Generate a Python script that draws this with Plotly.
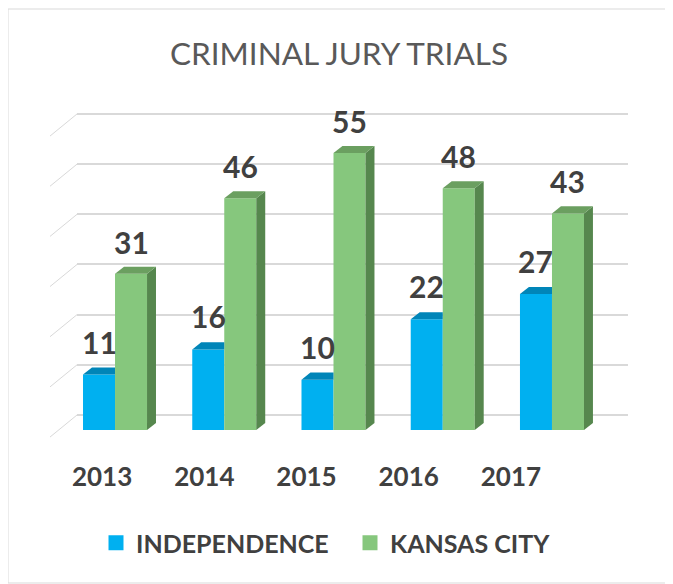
import plotly.graph_objects as go

# ---- data ----
years = ["2013", "2014", "2015", "2016", "2017"]
independence = [11, 16, 10, 22, 27]
kansas_city = [31, 46, 55, 48, 43]
y_ticks = [0, 10, 20, 30, 40, 50, 60]
series_names = ["INDEPENDENCE", "KANSAS CITY"]

# ---- geometry helpers (page body has an 8px margin) ----
OFF = 8
W, H = 673 - OFF, 584 - OFF
def px(x):
    return (x - OFF) / W
def py(y):
    return 1 - (y - OFF) / H

BARGAP = 0.414
bw = (1 - BARGAP) / 2      # width of one bar in category units
DX = 0.082                 # depth offset (category units)
DY = 1.4                   # depth offset (value units)

BLUE, BLUE_TOP = "#00b0f0", "#0085b8"
GREEN, GREEN_SIDE, GREEN_TOP = "#86c77d", "#56874e", "#6b9f60"
TXT = "#404040"
FONT = "Lato"

idx = list(range(len(years)))

fig = go.Figure()
fig.add_trace(go.Bar(x=idx, y=independence, name=series_names[0], showlegend=False,
                     marker=dict(color=BLUE, line=dict(width=0)),
                     xaxis="x2", yaxis="y2", hoverinfo="y"))
fig.add_trace(go.Bar(x=idx, y=kansas_city, name=series_names[1], showlegend=False,
                     marker=dict(color=GREEN, line=dict(width=0)),
                     xaxis="x2", yaxis="y2", hoverinfo="y"))
# legend entries (square swatches)
for name, col in zip(series_names, [BLUE, GREEN]):
    fig.add_trace(go.Scatter(x=[None], y=[None], mode="markers", name=name,
                             marker=dict(symbol="square", size=15, color=col),
                             xaxis="x2", yaxis="y2"))
# invisible carrier for the category label axis
fig.add_trace(go.Scatter(x=idx, y=[0] * len(idx), mode="markers", showlegend=False,
                         marker=dict(opacity=0), hoverinfo="skip",
                         xaxis="x3", yaxis="y3"))

shapes = []
# chart border
shapes.append(dict(type="rect", xref="paper", yref="paper",
                   x0=px(8), x1=px(667), y0=py(583), y1=py(9),
                   line=dict(color="#d9d9d9", width=1), layer="below"))
# side wall diagonals of the gridlines
for t in y_ticks:
    shapes.append(dict(type="line", xref="paper", yref="y",
                       x0=px(50), y0=t - 4.4, x1=px(77), y1=t,
                       line=dict(color="#d9d9d9", width=1), layer="below"))
# 3D faces of the bars
for i, v in enumerate(kansas_city):
    shapes.append(dict(type="path", xref="x2", yref="y2", layer="above",
                       path=f"M {i+bw},0 L {i+bw+DX},{DY} L {i+bw+DX},{v+DY} L {i+bw},{v} Z",
                       fillcolor=GREEN_SIDE, line=dict(width=0)))
    shapes.append(dict(type="path", xref="x2", yref="y2", layer="above",
                       path=f"M {i},{v} L {i+DX},{v+DY} L {i+bw+DX},{v+DY} L {i+bw},{v} Z",
                       fillcolor=GREEN_TOP, line=dict(width=0)))
for i, v in enumerate(independence):
    shapes.append(dict(type="path", xref="x2", yref="y2", layer="above",
                       path=f"M {i-bw},{v} L {i-bw+DX},{v+DY} L {i},{v+DY} L {i},{v} Z",
                       fillcolor=BLUE_TOP, line=dict(width=0)))

annotations = []
for i, v in enumerate(independence):
    annotations.append(dict(x=i - bw / 2, y=v, xref="x2", yref="y2", text=str(v),
                            showarrow=False, yanchor="middle", yshift=33,
                            font=dict(family=FONT, size=30, color=TXT, weight="bold")))
for i, v in enumerate(kansas_city):
    annotations.append(dict(x=i + bw / 2, y=v, xref="x2", yref="y2", text=str(v),
                            showarrow=False, yanchor="middle", yshift=32,
                            font=dict(family=FONT, size=30, color=TXT, weight="bold")))

s = 5.017  # px per unit on the back wall
fig.update_layout(
    width=W, height=H,
    margin=dict(l=0, r=0, t=0, b=0),
    paper_bgcolor="white", plot_bgcolor="rgba(0,0,0,0)",
    title=dict(text="CRIMINAL JURY TRIALS", x=px(339), xanchor="center",
               y=py(54), yanchor="middle",
               font=dict(family=FONT, size=31.5, color="#595959")),
    barmode="group", bargap=BARGAP, bargroupgap=0,
    # back wall grid
    xaxis=dict(domain=[px(77), px(628)], range=[0, 1], visible=False, anchor="y"),
    yaxis=dict(domain=[py(415 + 5 * s), py(415 - 60.5 * s)], range=[-5, 60.5],
               tickvals=y_ticks, showgrid=True, gridcolor="#d9d9d9", gridwidth=1.5,
               showticklabels=False, zeroline=False, showline=False, ticks="", anchor="x"),
    # bars
    xaxis2=dict(domain=[px(60.4), px(606.6)], range=[-0.5, 4.5], visible=False, anchor="y2"),
    yaxis2=dict(domain=[py(430), py(430 - 60 * 5.037)], range=[0, 60], visible=False, anchor="x2"),
    # category labels
    xaxis3=dict(domain=[px(51), px(562)], range=[-0.5, 4.5], anchor="y3",
                tickvals=idx, ticktext=years, showgrid=False, zeroline=False,
                showline=False, ticks="",
                tickfont=dict(family=FONT, size=26, color=TXT, weight="bold")),
    yaxis3=dict(domain=[py(459), py(457)], range=[-1, 1], visible=False, anchor="x3"),
    legend=dict(orientation="h", x=px(350), xanchor="center", y=py(543), yanchor="middle",
                font=dict(family=FONT, size=25, color=TXT, weight="bold"),
                entrywidth=209, entrywidthmode="pixels",
                itemclick=False, itemdoubleclick=False),
    shapes=shapes,
    annotations=annotations,
)

fig.write_html("out.html")
